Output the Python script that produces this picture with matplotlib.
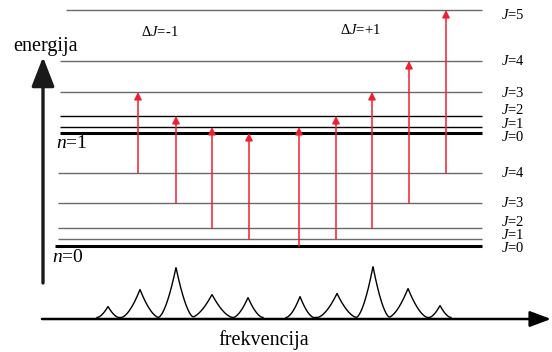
import numpy as np
import matplotlib
matplotlib.use("Agg")
import matplotlib.pyplot as plt

plt.rcParams['font.family'] = ['Liberation Serif', 'DejaVu Serif']
plt.rcParams['mathtext.fontset'] = 'custom'
plt.rcParams['mathtext.rm'] = 'Liberation Serif'
plt.rcParams['mathtext.it'] = 'Liberation Serif:italic'

# rotational levels (energy, drawn downwards in pixel units), J = 0..5
upper_levels = [133, 127, 116, 92, 61, 10]
lower_levels = [246, 239, 228, 203, 173]
upper_colors = ["black", "black", "black", "#6a6a6a", "#6a6a6a", "#6a6a6a"]
# label heights are spread out so the crowded low-J labels don't collide
upper_label_y = [137, 123.5, 110, 93, 61, 15]
lower_label_y = [248.5, 235, 221.5, 203, 173]

# transitions: (x position, lower J)
p_branch_x = [138, 176, 212, 249]
p_branch_J = [4, 3, 2, 1]
r_branch_x = [299, 336, 372, 409, 446]
r_branch_J = [0, 1, 2, 3, 4]

# spectrum peaks
peak_x = [108, 140, 176, 212, 248, 300, 337, 373, 408, 440]
peak_h = [11, 28, 50, 23, 20, 21, 24, 51, 29, 12]
peak_w = [11, 19, 18, 21, 15, 14, 20, 17, 20, 11]

red = "#ee2030"

fig = plt.figure(figsize=(5.52, 3.52), dpi=100)
ax = fig.add_axes([0, 0, 1, 1])
ax.set_xlim(0, 552)
ax.set_ylim(352, 0)
ax.axis("off")

# upper vibrational state n=1
for J, y in enumerate(upper_levels):
    x0 = 66 if J == 5 else 60
    lw = 2.2 if J == 0 else 1.0
    ax.plot([x0, 482], [y, y], color=upper_colors[J], lw=lw, solid_capstyle="butt")
    ax.text(501, upper_label_y[J], r"$J$=%d" % J, fontsize=10.5, va="center", ha="left")

# lower vibrational state n=0
for J, y in enumerate(lower_levels):
    x0 = 55 if J == 0 else 58
    lw = 2.2 if J == 0 else 1.0
    col = "black" if J == 0 else "#6a6a6a"
    ax.plot([x0, 482], [y, y], color=col, lw=lw, solid_capstyle="butt")
    ax.text(501, lower_label_y[J], r"$J$=%d" % J, fontsize=10.5, va="center", ha="left")

ax.text(56, 143, r"$n$=1", fontsize=14, va="center", ha="left")
ax.text(52, 258, r"$n$=0", fontsize=14, va="center", ha="left")

# transition arrows
for x, J in zip(p_branch_x, p_branch_J):
    ax.annotate("", xy=(x, upper_levels[J - 1]), xytext=(x, lower_levels[J]),
                arrowprops=dict(arrowstyle="-|>", color=red, lw=1.1,
                                mutation_scale=11, shrinkA=0, shrinkB=0))
for x, J in zip(r_branch_x, r_branch_J):
    ax.annotate("", xy=(x, upper_levels[J + 1]), xytext=(x, lower_levels[J]),
                arrowprops=dict(arrowstyle="-|>", color=red, lw=1.1,
                                mutation_scale=11, shrinkA=0, shrinkB=0))

ax.text(160, 32, r"$\Delta J$=-1", fontsize=10.5, va="center", ha="center")
ax.text(360, 30, r"$\Delta J$=+1", fontsize=10.5, va="center", ha="center")

# energy axis
ax.annotate("", xy=(43, 57), xytext=(43, 283),
            arrowprops=dict(arrowstyle="-|>,head_length=0.9,head_width=0.35",
                            color="#1a1a1a", lw=2.4, mutation_scale=20,
                            shrinkA=0, shrinkB=0))
ax.text(45, 47, "energija", fontsize=14.5, va="center", ha="center")

# spectrum
base = 317.5
for grp in (range(0, 5), range(5, 10)):
    lo = peak_x[grp[0]] - peak_w[grp[0]]
    hi = peak_x[grp[-1]] + peak_w[grp[-1]]
    xs = np.linspace(lo, hi, 800)
    ys = np.zeros_like(xs)
    for i in grp:
        d = np.clip(1 - np.abs(xs - peak_x[i]) / peak_w[i], 0, None)
        ys += peak_h[i] * d ** 1.7
    ax.plot(xs, base - ys, color="black", lw=1.0)

ax.annotate("", xy=(551, 319), xytext=(42, 319),
            arrowprops=dict(arrowstyle="-|>,head_length=0.8,head_width=0.3",
                            color="black", lw=1.8, mutation_scale=16,
                            shrinkA=0, shrinkB=0))
ax.text(264, 340, "frekvencija", fontsize=14.5, va="center", ha="center")

fig.savefig("out.png", dpi=100)
